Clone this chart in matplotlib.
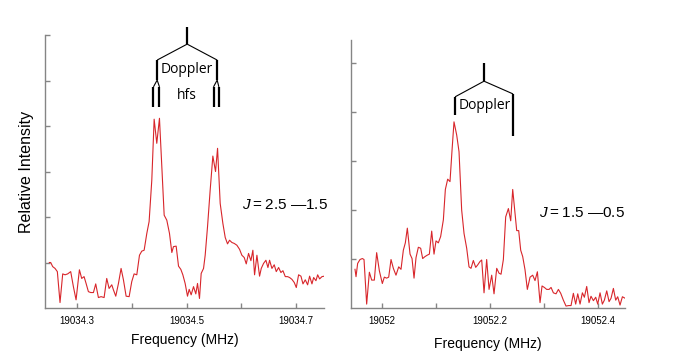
import numpy as np
import matplotlib
matplotlib.use('Agg')
import matplotlib.pyplot as plt
from matplotlib.ticker import FixedLocator, FixedFormatter

plt.rcParams['font.family'] = ['Liberation Sans', 'DejaVu Sans']
plt.rcParams['mathtext.fontset'] = 'custom'
plt.rcParams['mathtext.it'] = 'Liberation Sans:italic'
plt.rcParams['mathtext.rm'] = 'Liberation Sans'

# J = 2.5 - 1.5 transition
freq_a = [19034.2494, 19034.2519, 19034.2555, 19034.2598, 19034.2640, 19034.2689, 19034.2738,
          19034.2781, 19034.2829, 19034.2884, 19034.2933, 19034.2982, 19034.3043, 19034.3085,
          19034.3128, 19034.3165, 19034.3207, 19034.3250, 19034.3299, 19034.3341, 19034.3390,
          19034.3439, 19034.3494, 19034.3542, 19034.3585, 19034.3634, 19034.3664, 19034.3707,
          19034.3756, 19034.3804, 19034.3847, 19034.3896, 19034.3951, 19034.3999, 19034.4042,
          19034.4091, 19034.4140, 19034.4182, 19034.4225, 19034.4274, 19034.4316, 19034.4365,
          19034.4408, 19034.4456, 19034.4505, 19034.4548, 19034.4591, 19034.4639, 19034.4688,
          19034.4731, 19034.4761, 19034.4810, 19034.4853, 19034.4895, 19034.4932, 19034.4974,
          19034.5017, 19034.5048, 19034.5084, 19034.5127, 19034.5169, 19034.5200, 19034.5236,
          19034.5267, 19034.5310, 19034.5340, 19034.5383, 19034.5431, 19034.5480, 19034.5529,
          19034.5566, 19034.5614, 19034.5663, 19034.5706, 19034.5748, 19034.5785, 19034.5828,
          19034.5870, 19034.5919, 19034.5968, 19034.6010, 19034.6053, 19034.6090, 19034.6132,
          19034.6175, 19034.6211, 19034.6242, 19034.6285, 19034.6333, 19034.6364, 19034.6406,
          19034.6449, 19034.6486, 19034.6516, 19034.6559, 19034.6601, 19034.6638, 19034.6681,
          19034.6723, 19034.6760, 19034.6803, 19034.6845, 19034.6882, 19034.6924, 19034.6967,
          19034.7004, 19034.7046, 19034.7089, 19034.7126, 19034.7168, 19034.7211, 19034.7247,
          19034.7290, 19034.7321, 19034.7363, 19034.7394, 19034.7430, 19034.7473, 19034.7516]
inten_a = [1.00, 1.00, 0.91, 0.87, 0.80, 0.12, 0.75, 0.73, 0.75, 0.80, 0.47, 0.18, 0.84, 0.65,
           0.69, 0.54, 0.36, 0.34, 0.34, 0.53, 0.23, 0.25, 0.23, 0.65, 0.43, 0.51, 0.40, 0.26,
           0.54, 0.87, 0.62, 0.26, 0.25, 0.58, 0.75, 0.73, 1.16, 1.25, 1.27, 1.64, 1.90, 2.81,
           4.15, 3.62, 4.17, 3.11, 2.04, 1.93, 1.64, 1.22, 1.35, 1.36, 0.92, 0.85, 0.73, 0.54,
           0.26, 0.41, 0.29, 0.47, 0.31, 0.54, 0.21, 0.76, 0.87, 1.16, 1.79, 2.59, 3.34, 3.00,
           3.51, 2.30, 1.86, 1.55, 1.41, 1.49, 1.44, 1.42, 1.38, 1.29, 1.16, 1.11, 0.97, 1.20,
           1.04, 1.27, 0.73, 1.16, 0.70, 0.87, 0.98, 1.05, 0.89, 1.05, 0.87, 0.95, 0.80, 0.89,
           0.78, 0.82, 0.69, 0.69, 0.67, 0.63, 0.56, 0.45, 0.73, 0.70, 0.53, 0.62, 0.51, 0.70,
           0.53, 0.67, 0.60, 0.73, 0.64, 0.69, 0.70]

# J = 1.5 - 0.5 transition
freq_b = [19051.9500, 19051.9519, 19051.9549, 19051.9593, 19051.9636, 19051.9667, 19051.9716,
          19051.9766, 19051.9809, 19051.9858, 19051.9901, 19051.9951, 19052.0006, 19052.0043,
          19052.0086, 19052.0124, 19052.0167, 19052.0210, 19052.0259, 19052.0309, 19052.0352,
          19052.0395, 19052.0432, 19052.0469, 19052.0519, 19052.0556, 19052.0593, 19052.0630,
          19052.0673, 19052.0716, 19052.0753, 19052.0796, 19052.0840, 19052.0877, 19052.0920,
          19052.0963, 19052.1000, 19052.1043, 19052.1086, 19052.1136, 19052.1173, 19052.1216,
          19052.1259, 19052.1296, 19052.1333, 19052.1383, 19052.1426, 19052.1475, 19052.1519,
          19052.1568, 19052.1611, 19052.1648, 19052.1691, 19052.1735, 19052.1772, 19052.1815,
          19052.1846, 19052.1889, 19052.1938, 19052.1982, 19052.2031, 19052.2074, 19052.2124,
          19052.2167, 19052.2204, 19052.2247, 19052.2290, 19052.2340, 19052.2383, 19052.2420,
          19052.2457, 19052.2494, 19052.2531, 19052.2568, 19052.2605, 19052.2648, 19052.2691,
          19052.2741, 19052.2790, 19052.2833, 19052.2877, 19052.2926, 19052.2963, 19052.3006,
          19052.3049, 19052.3093, 19052.3130, 19052.3173, 19052.3222, 19052.3266, 19052.3309,
          19052.3358, 19052.3407, 19052.3457, 19052.3500, 19052.3543, 19052.3586, 19052.3624,
          19052.3667, 19052.3710, 19052.3747, 19052.3790, 19052.3833, 19052.3870, 19052.3914,
          19052.3957, 19052.3994, 19052.4037, 19052.4080, 19052.4117, 19052.4161, 19052.4204,
          19052.4241, 19052.4284, 19052.4327, 19052.4364, 19052.4407, 19052.4451, 19052.4500]
inten_b = [0.79, 0.64, 0.91, 0.99, 1.01, 0.99, 0.08, 0.73, 0.57, 0.57, 1.13, 0.76, 0.50, 0.63,
           0.61, 0.63, 0.99, 0.81, 0.67, 0.84, 0.79, 1.18, 1.33, 1.63, 1.10, 1.01, 0.61, 1.03,
           1.24, 1.22, 1.01, 1.05, 1.08, 1.10, 1.57, 1.10, 1.37, 1.33, 1.46, 1.80, 2.42, 2.63,
           2.58, 3.21, 3.80, 3.53, 3.19, 2.00, 1.52, 1.22, 0.84, 0.81, 0.97, 0.83, 0.88, 0.95,
           0.98, 0.31, 0.99, 0.38, 0.67, 0.29, 0.81, 0.71, 0.69, 0.99, 1.86, 2.03, 1.78, 2.42,
           2.00, 1.58, 1.58, 1.18, 1.05, 0.78, 0.38, 0.63, 0.67, 0.56, 0.74, 0.11, 0.45, 0.42,
           0.38, 0.38, 0.42, 0.31, 0.29, 0.38, 0.30, 0.16, 0.04, 0.05, 0.05, 0.30, 0.08, 0.29,
           0.08, 0.31, 0.22, 0.44, 0.11, 0.24, 0.15, 0.22, 0.08, 0.31, 0.08, 0.16, 0.35, 0.13,
           0.20, 0.40, 0.16, 0.23, 0.06, 0.23, 0.20]

ticks_a = [19034.3, 19034.4, 19034.5, 19034.6, 19034.7]
ticklabels_a = ['19034.3', '', '19034.5', '', '19034.7']
ticks_b = [19052.0, 19052.1, 19052.2, 19052.3, 19052.4]
ticklabels_b = ['19052', '', '19052.2', '', '19052.4']

LINE_RED = '#d8262b'
AXIS_GREY = '#858585'
NOTE_FONT = ['Open Sans', 'DejaVu Sans']


def style_axes(ax, xlim, ylim, yticks, xticks, xlabels):
    ax.set_xlim(*xlim)
    ax.set_ylim(*ylim)
    for side in ['top', 'right']:
        ax.spines[side].set_visible(False)
    for side in ['left', 'bottom']:
        ax.spines[side].set_color(AXIS_GREY)
        ax.spines[side].set_linewidth(1.0)
    ax.yaxis.set_major_locator(FixedLocator(yticks))
    ax.set_yticklabels([])
    ax.xaxis.set_major_locator(FixedLocator(xticks))
    ax.xaxis.set_major_formatter(FixedFormatter(xlabels))
    ax.tick_params(direction='in', length=3.8, width=1.0, color=AXIS_GREY,
                   labelsize=7, pad=6)


def bracket(ax, pts, lw):
    xs, ys = zip(*pts)
    ax.plot(xs, ys, color='black', lw=lw, clip_on=False, solid_capstyle='butt')


def main():
    fig = plt.figure(figsize=(6.75, 3.6), dpi=100)
    ax1 = fig.add_axes([0.0667, 0.1444, 0.4133, 0.7583])
    ax2 = fig.add_axes([0.52, 0.1444, 0.406, 0.7444])

    # left spectrum
    ax1.plot(freq_a, inten_a, color=LINE_RED, lw=0.8)
    style_axes(ax1, (19034.2415, 19034.751), (0, 6), [1, 2, 3, 4, 5, 6], ticks_a, ticklabels_a)
    ax1.set_ylabel('Relative Intensity', fontsize=11.5, labelpad=2)
    ax1.set_xlabel('Frequency (MHz)', fontsize=10, labelpad=5)

    # Doppler + hfs tree
    bracket(ax1, [(19034.5011, 6.18), (19034.5011, 5.80)], 1.6)
    bracket(ax1, [(19034.4463, 5.45), (19034.5011, 5.80), (19034.5559, 5.45)], 0.8)
    bracket(ax1, [(19034.4463, 5.45), (19034.4463, 5.01)], 1.6)
    bracket(ax1, [(19034.5559, 5.45), (19034.5559, 5.01)], 1.6)
    for x0, xl, xr in [(19034.4463, 19034.4395, 19034.4505), (19034.5559, 19034.5492, 19034.5590)]:
        bracket(ax1, [(xl, 4.86), (x0, 5.01), (xr, 4.86)], 0.8)
        bracket(ax1, [(xl, 4.86), (xl, 4.41)], 1.6)
        bracket(ax1, [(xr, 4.86), (xr, 4.41)], 1.6)
    ax1.text(19034.5011, 5.25, 'Doppler', ha='center', va='center', fontsize=10, family=NOTE_FONT)
    ax1.text(19034.5011, 4.68, 'hfs', ha='center', va='center', fontsize=10, family=NOTE_FONT)
    ax1.text(19034.6017, 2.26, '$J$\u2009=\u20092.5 \u20141.5', ha='left', va='center', fontsize=11)

    # right spectrum
    ax2.plot(freq_b, inten_b, color=LINE_RED, lw=0.8)
    style_axes(ax2, (19051.9426, 19052.45), (0, 5.47), [1, 2, 3, 4, 5], ticks_b, ticklabels_b)
    ax2.set_xlabel('Frequency (MHz)', fontsize=10, labelpad=8)

    # Doppler tree
    bracket(ax2, [(19052.1889, 5.00), (19052.1889, 4.63)], 1.6)
    bracket(ax2, [(19052.1352, 4.31), (19052.1889, 4.63), (19052.2426, 4.37)], 0.8)
    bracket(ax2, [(19052.1352, 4.31), (19052.1352, 3.94)], 1.6)
    bracket(ax2, [(19052.2426, 4.37), (19052.2426, 3.51)], 1.6)
    ax2.text(19052.1907, 4.14, 'Doppler', ha='center', va='center', fontsize=10, family=NOTE_FONT)
    ax2.text(19052.2907, 1.94, '$J$\u2009=\u20091.5 \u20140.5', ha='left', va='center', fontsize=11)

    fig.savefig('out.png', dpi=100)


if __name__ == '__main__':
    main()
